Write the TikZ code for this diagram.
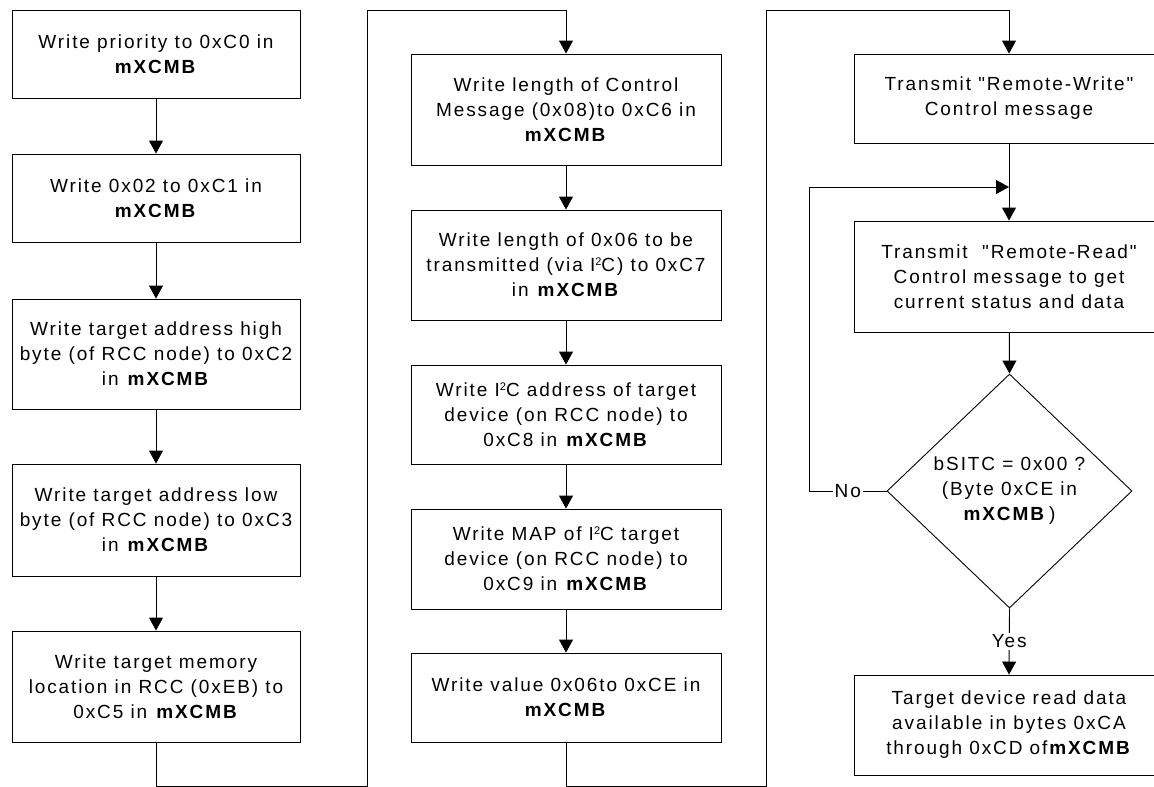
\documentclass[tikz,border=0pt]{standalone}
\usepackage{fontspec}
\setmainfont[LetterSpace=10,Ligatures=TeXOff]{Liberation Sans}
\usetikzlibrary{arrows.meta,shapes.geometric}
\newcommand{\supsq}{\raisebox{6pt}{\fontsize{11}{11}\selectfont 2}}
\begin{document}
\begin{tikzpicture}[x=1pt,y=-1pt,
  every node/.style={font=\fontsize{19}{25}\selectfont},
  boxa/.style={draw, line width=0.9pt, inner sep=0pt, align=center, minimum width=288pt},
  boxb/.style={draw, line width=0.9pt, inner sep=0pt, align=center, minimum width=310pt},
  flow/.style={line width=0.9pt, -{Triangle[width=14pt,length=13pt]}},
  lbl/.style={fill=white, inner sep=2pt}]
\useasboundingbox (0,0) rectangle (1154,787);
\clip (0,0) rectangle (1154,787);
% column 1
\node[boxa, minimum height=88pt]  (b1) at (156,54)  {Write priority to 0xC0 in\\\textbf{mXCMB}};
\node[boxa, minimum height=88pt]  (b2) at (156,198) {Write 0x02 to 0xC1 in\\\textbf{mXCMB}};
\node[boxa, minimum height=110pt] (b3) at (156,354) {Write target address high\\byte (of RCC node) to 0xC2\\in \textbf{mXCMB}};
\node[boxa, minimum height=112pt] (b4) at (156,520) {Write target address low\\byte (of RCC node) to 0xC3\\in \textbf{mXCMB}};
\node[boxa, minimum height=111pt] (b5) at (156,686.5) {Write target memory\\location in RCC (0xEB) to\\0xC5 in \textbf{mXCMB}};
% column 2
\node[boxb, minimum height=111pt] (c1) at (566,109.5) {Write length of Control\\Message (0x08)to 0xC6 in\\\textbf{mXCMB}};
\node[boxb, minimum height=110pt] (c2) at (566,265) {Write length of 0x06 to be\\transmitted (via I\supsq C) to 0xC7\\in \textbf{mXCMB}};
\node[boxb, minimum height=99pt]  (c3) at (566,414.5) {Write I\supsq C address of target\\device (on RCC node) to\\0xC8 in \textbf{mXCMB}};
\node[boxb, minimum height=100pt] (c4) at (566,559) {Write MAP of I\supsq C target\\device (on RCC node) to\\0xC9 in \textbf{mXCMB}};
\node[boxb, minimum height=89pt]  (c5) at (566,697.5) {Write value 0x06to 0xCE in\\\textbf{mXCMB}};
% column 3
\node[boxb, minimum height=89pt]  (d1) at (1009,98.5) {Transmit "Remote-Write"\\Control message};
\node[boxb, minimum height=111pt] (d2) at (1009,276.5) {Transmit\ \ "Remote-Read"\\Control message to get\\current status and data};
\node[draw, line width=0.9pt, shape=diamond, inner sep=0pt, aspect=1.05,
      minimum width=245pt, minimum height=234pt, align=center] (dia) at (1009.5,491)
      {bSITC = 0x00 ?\\(Byte 0xCE in\\\textbf{mXCMB}\,)};
\node[boxb, minimum height=100pt] (d3) at (1009,725) {Target device read data\\available in bytes 0xCA\\through 0xCD of\textbf{mXCMB}};
% helper coordinates
\coordinate (r1) at (367,786);
\coordinate (t1) at (367,10);
\coordinate (r2) at (766,786);
\coordinate (t2) at (766,10);
\coordinate (j)  at (1009,187);
\coordinate (lp) at (809,491);
% connectors column 1
\draw[flow] (b1) -- (b2);
\draw[flow] (b2) -- (b3);
\draw[flow] (b3) -- (b4);
\draw[flow] (b4) -- (b5);
\draw[flow] (b5.south) |- (r1) -- (t1) -| (c1.north);
% connectors column 2
\draw[flow] (c1) -- (c2);
\draw[flow] (c2) -- (c3);
\draw[flow] (c3) -- (c4);
\draw[flow] (c4) -- (c5);
\draw[flow] (c5.south) |- (r2) -- (t2) -| (d1.north);
% connectors column 3
\draw[flow] (d1) -- (d2);
\draw[flow] (d2) -- (dia.north);
\draw[flow] (dia.south) -- node[lbl] {Yes} (d3.north);
\draw[flow] (dia.west) -- node[lbl] {No} (lp) |- (j);
\end{tikzpicture}
\end{document}
